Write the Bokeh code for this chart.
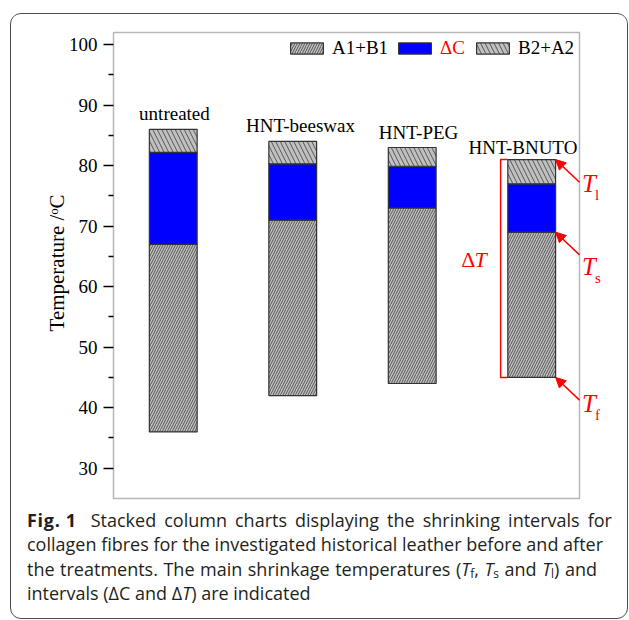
import subprocess
from bokeh.plotting import figure
from bokeh.layouts import column
from bokeh.models import (Range1d, FixedTicker, Label, Arrow, NormalHead, Div,
                          BoxAnnotation, Legend, LegendItem, ColumnDataSource)
from bokeh.core.properties import value
from bokeh.embed import file_html
from bokeh.resources import INLINE

# ---------------- data ----------------
categories = ["untreated", "HNT-beeswax", "HNT-PEG", "HNT-BNUTO"]
t_f = [36.0, 42.0, 44.0, 45.0]      # start of shrinkage (bottom of A1+B1)
t_s = [67.0, 71.0, 73.0, 69.0]      # main shrinkage temperature (top of A1+B1)
t_c = [82.2, 80.3, 79.9, 77.0]      # top of the ΔC interval
t_l = [86.0, 84.0, 83.0, 81.0]      # last shrinkage temperature (top of B2+A2)
y_ticks = [30, 40, 50, 60, 70, 80, 90, 100]
series_labels = ["A1+B1", "ΔC", "B2+A2"]
y_label = "Temperature /ᵒC"

caption_head = "Fig. 1"
caption_lines = [
    [("Stacked column charts displaying the shrinking intervals for", "n")],
    [("collagen fibres for the investigated historical leather before and after", "n")],
    [("the treatments. The main shrinkage temperatures (", "n"), ("T", "i"), ("f", "sub"),
     (", ", "n"), ("T", "i"), ("s", "sub"), (" and ", "n"), ("T", "i"), ("l", "sub"), (") and", "n")],
    [("intervals (ΔC and Δ", "n"), ("T", "i"), (") are indicated", "n")],
]

# ---------------- layout ----------------
CARD_L, CARD_T = 10, 13          # card (rounded border) position in the window
OX, OY = CARD_L + 1, CARD_T + 1  # figure origin in window pixels (1px border)
PW, PH = 616, 492                # figure size
DH = 112                         # caption height
# frame edges (window pixels)
FL, FT, FB = 111, 20, 505
FR = OX + PW
# chart box (window pixels) and its value range
BOX_L, BOX_R, BOX_T, BOX_B = 113, 579, 32, 498
X0, X1, Y0, Y1 = 0.5, 4.4, 25.0, 102.0
kx = (BOX_R - BOX_L) / (X1 - X0)
ky = (BOX_B - BOX_T) / (Y1 - Y0)

SERIF = "Liberation Serif"
CAP_FONT = "Open Sans"
RED = "#ff0000"


def sx(px):
    return px - FL


def sy(py):
    return FB - py


def measure(txt, family, size):
    try:
        from PIL import ImageFont
        path = subprocess.run(["fc-match", "-f", "%{file}", family], capture_output=True,
                              text=True, timeout=5).stdout.strip()
        return ImageFont.truetype(path, size).getlength(txt)
    except Exception:
        return None


def red_label(px, py, txt, size, italic=False):
    return Label(x=sx(px), y=sy(py), x_units="screen", y_units="screen", text=txt,
                 text_font=SERIF, text_font_size=size, text_baseline="alphabetic",
                 text_font_style="italic" if italic else "normal", text_color=RED)


x_pos = list(range(1, len(categories) + 1))
bar_w = 0.4

p = figure(width=PW, height=PH,
           x_range=Range1d(X0 - (BOX_L - FL) / kx, X1 + (FR - BOX_R) / kx),
           y_range=Range1d(Y0 - (FB - BOX_B) / ky, Y1 + (BOX_T - FT) / ky),
           x_axis_location=None, title=None, output_backend="svg", toolbar_location=None,
           min_border_left=FL - OX, min_border_right=0, min_border_top=FT - OY,
           min_border_bottom=OY + PH - FB)
p.xgrid.visible = False
p.ygrid.visible = False
p.outline_line_color = None
p.background_fill_color = "white"
p.border_fill_color = "white"

ax = p.yaxis[0]
ax.ticker = FixedTicker(ticks=y_ticks,
                        minor_ticks=[a + (b - a) / 2 for a, b in zip(y_ticks[:-1], y_ticks[1:])])
ax.axis_label = y_label
ax.axis_label_text_font = SERIF
ax.axis_label_text_font_size = "21px"
ax.axis_label_text_font_style = "normal"
ax.axis_label_text_color = "black"
ax.axis_label_standoff = -3
ax.major_label_text_font = SERIF
ax.major_label_text_font_size = "19px"
ax.major_label_text_color = "black"
ax.major_label_standoff = 6
ax.major_tick_out = 8
ax.major_tick_in = BOX_L - FL
ax.minor_tick_out = 3
ax.minor_tick_in = BOX_L - FL
ax.axis_line_color = None
ax.major_tick_line_width = 1.5
ax.minor_tick_line_width = 1.5
ax.major_tick_line_color = "black"
ax.minor_tick_line_color = "black"

# chart box
p.add_layout(BoxAnnotation(left=X0, right=X1, bottom=Y0, top=Y1, fill_color=None,
                           fill_alpha=0, line_color="#111111", line_width=1.5))

src = ColumnDataSource(dict(x=x_pos, t_f=t_f, t_s=t_s, t_c=t_c, t_l=t_l))
common = dict(x="x", width=bar_w, source=src, line_color="#333333", line_width=1.2)
r1 = p.vbar(bottom="t_f", top="t_s", fill_color="#c0c0c0", hatch_pattern="/",
            hatch_color="#3a3a3a", hatch_scale=5, hatch_weight=0.8, **common)
r2 = p.vbar(bottom="t_s", top="t_c", fill_color="#0000ff", **common)
r3 = p.vbar(bottom="t_c", top="t_l", fill_color="#c0c0c0", hatch_pattern="\\",
            hatch_color="#3a3a3a", hatch_scale=9, hatch_weight=0.8, **common)

# category labels above bars
label_shift = [0.01, 0.065, 0.053, -0.073]
label_rise = [2.6, 2.6, 2.5, 2.05]
p.text(x=[x + d for x, d in zip(x_pos, label_shift)],
       y=[t + d for t, d in zip(t_l, label_rise)],
       text=categories, text_font=value(SERIF), text_font_size="19px",
       text_align="center", text_baseline="alphabetic", text_color="black")

# legends (one per item so that ΔC can be red)
leg_x = [286, 394, 472]
leg_colors = ["black", RED, "black"]
for rend, lab, lx, col in zip([r1, r2, r3], series_labels, leg_x, leg_colors):
    lg = Legend(items=[LegendItem(label=lab, renderers=[rend])], location=(sx(lx), sy(38) - 21),
                orientation="horizontal", glyph_width=41, glyph_height=14, label_standoff=5,
                padding=0, margin=0, border_line_alpha=0, background_fill_alpha=0,
                label_text_font=SERIF, label_text_font_size="19px", label_text_color=col)
    p.add_layout(lg)

# ΔT bracket on the last bar
i = len(categories) - 1
bx0 = x_pos[i] - bar_w / 2
bx = bx0 - 0.06
p.line(x=[bx0, bx, bx, bx0], y=[t_l[i], t_l[i], t_f[i], t_f[i]], line_color=RED, line_width=1.5)
p.add_layout(red_label(460.7, 259.3, "Δ", "22px"))
p.add_layout(red_label(474.0, 259.3, "T", "22px", italic=True))

# arrows to T_l, T_s, T_f
bx1 = x_pos[i] + bar_w / 2
for t in (t_l[i], t_s[i], t_f[i]):
    p.add_layout(Arrow(x_start=X1, y_start=t - 3.75, x_end=bx1, y_end=t,
                       line_color=RED, line_width=1.5,
                       end=NormalHead(size=10, fill_color=RED, line_color=RED)))
for sub, tyb, syb in (("l", 183.3, 194.0), ("s", 266.0, 277.0), ("f", 403.3, 414.0)):
    p.add_layout(red_label(581.5, tyb, "T", "25px", italic=True))
    p.add_layout(red_label(594.5, syb, sub, "15px"))

# caption: each line placed at the reference's position
line2 = caption_lines[1][0][0]
w100 = measure(line2, CAP_FONT, 100)
cap_size = 585.0 / w100 * 100 if w100 else 16.0
cap_size = max(14.0, min(18.0, cap_size))
LH = 24.4
div_top = OY + PH
baselines = [527.3, 551.3, 576.0, 600.5]
line_left = [90.7, 27.0, 27.0, 27.0]
line_right = [612.0, None, 597.0, None]     # None: natural width


def line_top(base):
    return base - div_top - (LH / 2 + 0.388 * cap_size)


blocks = [f'<div style="position:absolute;left:{27 - OX}px;top:{line_top(baselines[0]):.1f}px;'
          f'font-weight:bold;letter-spacing:0.7px;white-space:nowrap;">{caption_head}</div>']
for pieces, base, l, r in zip(caption_lines, baselines, line_left, line_right):
    parts = []
    for txt, st in pieces:
        if st == "i":
            parts.append(f"<i>{txt}</i>")
        elif st == "sub":
            parts.append(f'<span style="font-size:0.66em;position:relative;top:0.22em;line-height:0">{txt}</span>')
        else:
            parts.append(txt)
    if r is None:
        extra = "white-space:nowrap;"
    else:
        extra = f"width:{r - l:.1f}px;text-align:justify;text-align-last:justify;"
    blocks.append(f'<div style="position:absolute;left:{l - OX:.1f}px;top:{line_top(base):.1f}px;{extra}">'
                  + "".join(parts) + "</div>")
cap_html = ('<div style="position:relative;width:%dpx;height:%dpx;font-family:\'Open Sans\',sans-serif;'
            'font-size:%.2fpx;line-height:%.1fpx;color:#231f20;margin:0;padding:0;">%s</div>'
            % (PW, DH, cap_size, LH, "".join(blocks)))
cap = Div(text=cap_html, width=PW, height=DH, margin=0)

layout = column(p, cap, margin=(CARD_T, 0, 0, CARD_L), spacing=0,
                styles={"border": "1px solid #4d4d4d", "border-radius": "11px",
                        "overflow": "hidden", "background": "white"})

open("out.html", "w").write(file_html(layout, INLINE))
